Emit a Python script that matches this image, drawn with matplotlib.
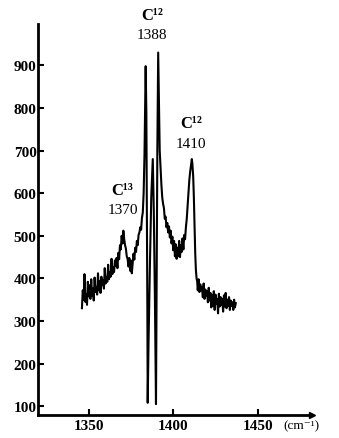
import matplotlib
matplotlib.use("Agg")
import matplotlib.pyplot as plt

# wavenumber (cm-1) and intensity
wavenumber = [
    1346.0, 1346.5, 1347.0, 1347.5, 1348.0, 1348.5, 1349.0, 1349.5, 1350.0, 1350.5,
    1351.0, 1351.5, 1352.0, 1352.5, 1353.0, 1353.5, 1354.0, 1354.5, 1355.0, 1355.5,
    1356.0, 1356.5, 1357.0, 1357.5, 1358.0, 1358.5, 1359.0, 1359.5, 1360.0, 1360.5,
    1361.0, 1361.5, 1362.0, 1362.5, 1363.0, 1363.5, 1364.0, 1364.5, 1365.0, 1365.5,
    1366.0, 1366.5, 1367.0, 1367.5, 1368.0, 1368.5, 1369.0, 1369.5, 1370.0, 1370.5,
    1371.0, 1371.5, 1372.0, 1372.5, 1373.0, 1373.5, 1374.0, 1374.5, 1375.0, 1375.5,
    1376.0, 1376.5, 1377.0, 1377.5, 1378.0, 1378.5, 1379.0, 1379.5, 1380.0, 1380.5,
    1381.0, 1381.5, 1382.0, 1382.5, 1383.0, 1383.4, 1383.7, 1384.1, 1384.4, 1384.7,
    1384.9, 1385.4, 1386.2, 1387.0, 1387.9, 1388.5, 1389.2, 1389.8, 1390.2, 1390.6,
    1391.1, 1391.5, 1392.0, 1392.5, 1393.0, 1393.5, 1394.0, 1394.5, 1395.0, 1395.5,
    1396.0, 1396.5, 1397.0, 1397.5, 1398.0, 1398.5, 1399.0, 1399.5, 1400.0, 1400.5,
    1401.0, 1401.5, 1402.0, 1402.5, 1403.0, 1403.5, 1404.0, 1404.5, 1405.0, 1405.5,
    1406.0, 1406.5, 1407.0, 1407.5, 1408.0, 1408.5, 1409.0, 1409.5, 1410.0, 1410.5,
    1411.0, 1411.3, 1411.8, 1412.2, 1412.6, 1413.0, 1413.4, 1413.8, 1414.2, 1414.5,
    1415.0, 1415.5, 1416.0, 1416.5, 1417.0, 1417.5, 1418.0, 1418.5, 1419.0, 1419.5,
    1420.0, 1420.5, 1421.0, 1421.5, 1422.0, 1422.5, 1423.0, 1423.5, 1424.0, 1424.5,
    1425.0, 1425.5, 1426.0, 1426.5, 1427.0, 1427.5, 1428.0, 1428.5, 1429.0, 1429.5,
    1430.0, 1430.5, 1431.0, 1431.5, 1432.0, 1432.5, 1433.0, 1433.5, 1434.0, 1434.5,
    1435.0, 1435.5, 1436.0, 1436.5, 1437.0,
]
intensity = [
    330, 372, 350, 410, 345, 362, 338, 392, 358, 384,
    352, 398, 360, 376, 348, 402, 368, 380, 362, 412,
    372, 394, 366, 404, 384, 396, 376, 424, 388, 402,
    392, 432, 398, 414, 404, 446, 410, 426, 415, 442,
    430, 448, 424, 460, 445, 478, 468, 500, 482, 512,
    492, 478, 470, 452, 446, 428, 448, 418, 442, 412,
    436, 458, 444, 472, 462, 488, 478, 502, 508, 520,
    514, 542, 555, 600, 690, 800, 898, 790, 560, 330,
    108, 250, 430, 590, 680, 560, 340, 105, 400, 700,
    930, 820, 700, 660, 620, 590, 575, 565, 540, 545,
    520, 530, 508, 522, 496, 512, 482, 498, 466, 488,
    452, 480, 446, 472, 452, 488, 450, 478, 462, 494,
    468, 502, 492, 520, 540, 570, 600, 630, 650, 665,
    680, 670, 640, 590, 520, 460, 420, 400, 392, 372,
    398, 368, 386, 372, 380, 356, 388, 352, 374, 360,
    370, 344, 378, 348, 366, 332, 360, 336, 370, 326,
    362, 340, 352, 318, 364, 334, 356, 338, 352, 322,
    360, 334, 366, 330, 350, 336, 356, 326, 348, 336,
    344, 326, 350, 332, 342,
]

x_ticks = [1350, 1400, 1450]
y_ticks = [100, 200, 300, 400, 500, 600, 700, 800, 900]

peak_labels = [("C¹³", "1370", 1370.0, 588), ("C¹²", "1388", 1387.5, 1000), ("C¹²", "1410", 1410.5, 745)]

serif = ["Liberation Serif", "DejaVu Serif"]

fig = plt.figure(figsize=(3.39, 4.39), dpi=100)
ax = fig.add_axes([0.112, 0.052, 0.808, 0.891])

ax.plot(wavenumber, intensity, color="black", lw=1.5)

ax.set_xlim(1320, 1482)
ax.set_ylim(79, 997)
ax.set_xticks(x_ticks)
ax.set_yticks(y_ticks)

for s in ["top", "right"]:
    ax.spines[s].set_visible(False)
for s in ["left", "bottom"]:
    ax.spines[s].set_linewidth(2)

ax.tick_params(axis="both", direction="in", length=4, width=1.5, labelsize=11)
ax.tick_params(axis="x", pad=3)
ax.tick_params(axis="y", pad=1)
for lab in ax.get_xticklabels() + ax.get_yticklabels():
    lab.set_family(serif)
    lab.set_fontweight("bold")

# arrow head on the x axis
ax.plot(1, 0, ">", color="black", ms=5, transform=ax.transAxes, clip_on=False)

ax.text(1465, 70, "(cm⁻¹)", ha="left", va="top", fontsize=9.5, family=serif)

for sym, num, xp, yp in peak_labels:
    ax.text(xp, yp, sym, ha="center", va="bottom", fontsize=12, family=serif, fontweight="bold")
    ax.text(xp, yp - 12, num, ha="center", va="top", fontsize=11, family=serif)

fig.savefig("out.png", dpi=100)
